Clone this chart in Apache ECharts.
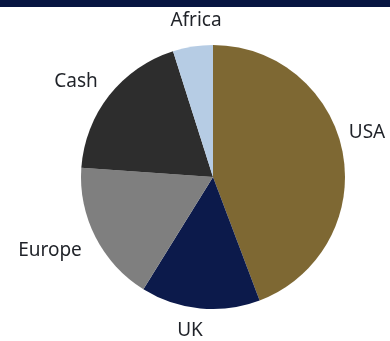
<!DOCTYPE html>
<html>
<head>
<meta charset="utf-8">
<script src="https://cdn.jsdelivr.net/npm/echarts@6/dist/echarts.min.js"></script>
<style>
  html, body { margin: 0; padding: 0; background: #ffffff; }
  #chart { width: 390px; height: 341px; }
</style>
</head>
<body>
<div id="chart"></div>
<script>
// Portfolio allocation by region (share, %)
const regions = ['USA', 'UK', 'Europe', 'Cash', 'Africa'];
const shares = [44.3, 14.6, 17.3, 19.0, 4.9];
const sliceColors = ['#7e6833', '#0c1a4b', '#7f7f7f', '#2d2d2d', '#b6cce4'];

// Where each category label sits (chart pixels), keyed by category
const labelSpots = {
  USA: [367, 133],
  UK: [190, 331],
  Europe: [50, 251],
  Cash: [76, 82],
  Africa: [196, 21]
};

const chart = echarts.init(document.getElementById('chart'), null, { renderer: 'canvas' });

chart.setOption({
  animation: false,
  backgroundColor: '#ffffff',
  graphic: [{
    type: 'rect',
    left: 0, top: 0,
    shape: { width: 390, height: 7 },
    style: { fill: '#071541' }
  }],
  series: [{
    type: 'pie',
    center: [213, 177],
    radius: 132,
    startAngle: 90,
    clockwise: true,
    avoidLabelOverlap: false,
    data: regions.map((name, i) => ({
      name: name,
      value: shares[i],
      itemStyle: { color: sliceColors[i] }
    })),
    label: {
      show: true,
      position: 'outside',
      formatter: '{b}',
      overflow: 'none',
      alignTo: 'none',
      fontFamily: 'Noto Sans',
      fontSize: 19,
      color: '#1f2228'
    },
    labelLine: { show: false },
    labelLayout: function (p) {
      const spot = labelSpots[regions[p.dataIndex]];
      return { x: spot[0], y: spot[1], align: 'center', verticalAlign: 'middle', hideOverlap: false };
    },
    emphasis: { disabled: true }
  }]
});
</script>
</body>
</html>
